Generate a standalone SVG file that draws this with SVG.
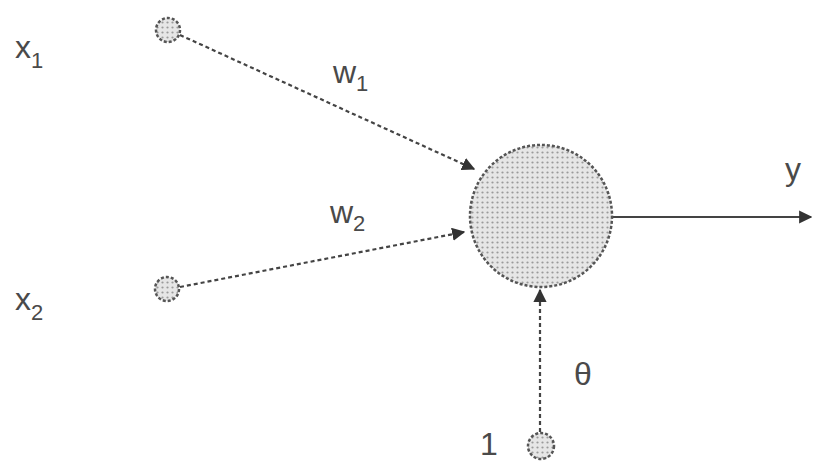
<svg xmlns="http://www.w3.org/2000/svg" width="813" height="464" viewBox="0 0 813 464">
<style>
.lbl{font-family:"Liberation Sans",Arial,sans-serif;fill:#4a4a4a;font-size:32px}
.sub{font-size:22px}
.node{fill:url(#dots);stroke:#555;stroke-width:2.5;stroke-dasharray:3 2}
.edge{stroke:#444;stroke-width:2.2;stroke-dasharray:4 3;fill:none}
.solid{stroke:#444;stroke-width:2.2;fill:none}
</style>
<defs>
<pattern id="dots" width="5" height="5" patternUnits="userSpaceOnUse">
<rect width="5" height="5" fill="#e6e6e6"/>
<circle cx="2.5" cy="2.5" r="1.1" fill="#9a9a9a"/>
</pattern>
<marker id="arr" viewBox="0 0 10 10" refX="9" refY="5" markerWidth="6" markerHeight="6" orient="auto" markerUnits="strokeWidth">
<path d="M0,0 L10,5 L0,10 z" fill="#333"/>
</marker>
</defs>
<rect width="813" height="464" fill="#fff"/>
<g id="connectors">
<line class="edge" x1="180" y1="35" x2="474" y2="169" marker-end="url(#arr)"/>
<line class="edge" x1="180" y1="287" x2="464" y2="232" marker-end="url(#arr)"/>
<line class="edge" x1="540" y1="432" x2="540" y2="290" marker-end="url(#arr)"/>
<line class="solid" x1="613" y1="217" x2="811" y2="217" marker-end="url(#arr)"/>
</g>
<g id="x1"><circle class="node" cx="168" cy="30" r="12"/></g>
<g id="x2"><circle class="node" cx="167" cy="289" r="12"/></g>
<g id="neuron"><circle class="node" cx="541" cy="216" r="71"/></g>
<g id="bias"><circle class="node" cx="541" cy="446" r="13"/></g>
<g id="labels">
<text class="lbl" x="15" y="58">x<tspan class="sub" dy="10">1</tspan></text>
<text class="lbl" x="15" y="310">x<tspan class="sub" dy="10">2</tspan></text>
<text class="lbl" x="333" y="83">w<tspan class="sub" dy="8">1</tspan></text>
<text class="lbl" x="330" y="223">w<tspan class="sub" dy="8">2</tspan></text>
<text class="lbl" x="785" y="180">y</text>
<text class="lbl" x="574" y="385">θ</text>
<text class="lbl" x="480" y="455">1</text>
</g>
</svg>
